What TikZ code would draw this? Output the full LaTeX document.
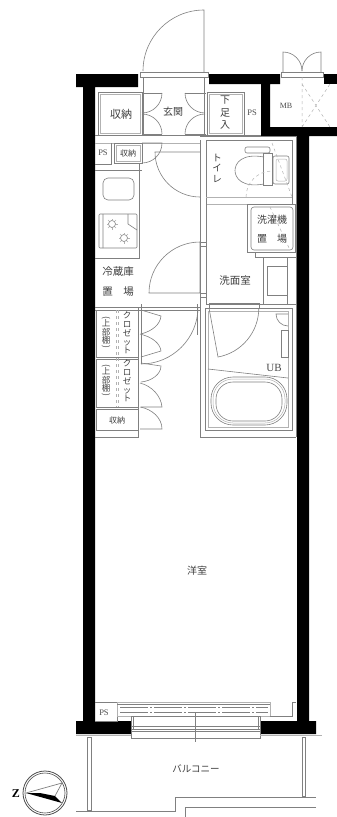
\documentclass[tikz,border=0pt]{standalone}
\usepackage{fontspec}
\setmainfont{Noto Sans CJK JP}
\newfontfamily\latinlabel{Liberation Serif}
\newcommand{\turnparen}[1]{\rotatebox[origin=c]{-90}{#1}}
\tikzset{
  wallfill/.style={fill=black,draw=none},
  thinline/.style={draw=black!50,line width=0.6pt},
  faintline/.style={draw=black!30,line width=0.5pt},
  roomlabel/.style={inner sep=0pt,font=\fontsize{10}{11}\selectfont,text=black!75},
  smalllabel/.style={inner sep=0pt,font=\fontsize{8}{9}\selectfont,text=black!75},
  latinmark/.style={inner sep=0pt,font=\fontsize{8.5}{9}\latinlabel\selectfont,text=black!70},
  stacklabel/.style={inner sep=0pt,align=center,font=\fontsize{8.5}{8.8}\selectfont,text=black!75}
}
\begin{document}
\begin{tikzpicture}[x=1pt,y=-1pt]
	\useasboundingbox (0,0) rectangle (337,817);
	\fill[white] (0,0) rectangle (337,817);

	% walls
	\fill[wallfill] (76,74) -- (138,74) -- (138,87) -- (95,87) -- (95,721) -- (131,721) -- (131,734) -- (76,734) -- (76,721) -- (83,721) -- (83,87) -- (76,87) -- cycle;
	\fill[wallfill] (209,74) -- (280,74) -- (280,84) -- (270,84) -- (270,127) -- (337,127) -- (337,136) -- (309,136) -- (309,721) -- (316,721) -- (316,734) -- (260,734) -- (260,721) -- (297,721) -- (297,136) -- (261,136) -- (261,84) -- (209,84) -- cycle;
	\fill[wallfill] (324,74) rectangle (337,84);

	% entrance door
	\draw[thinline] (204,72) -- (204,10) arc[start angle=-90,end angle=-180,radius=61];
	\draw[thinline] (140,72) rectangle (208,77);
	\draw[thinline] (143,77) -- (143,135) (204,77) -- (204,135);

	% MB
	\draw[thinline] (283,72) -- (283,52) arc[start angle=-90,end angle=0,radius=19];
	\draw[thinline] (321,72) -- (321,52) arc[start angle=-90,end angle=-180,radius=19];
	\draw[thinline] (281,72) rectangle (323,77);
	\draw[faintline,dashed] (302,77) -- (302,127) (302,127) -- (330,84) (302,84) -- (330,127);
	\node[latinmark,font=\fontsize{8}{9}\latinlabel\selectfont] (mbmark) at (286,106) {MB};

	% genkan storage
	\draw[thinline] (98,92) rectangle (142,135);
	\draw[faintline] (100,94) rectangle (140,133);
	\draw[thinline] (207,92) rectangle (244,135);
	\draw[faintline] (209,94) rectangle (242,133);
	\foreach \yedge in {93,134} {
		\draw[thinline] (143,\yedge) -- (162,\yedge);
		\draw[thinline] (206,\yedge) -- (185,\yedge);
	}
	\draw[thinline] (162,93) arc[start angle=0,end angle=90,radius=20];
	\draw[thinline] (162,134) arc[start angle=0,end angle=-90,radius=20];
	\draw[thinline] (185,93) arc[start angle=180,end angle=90,radius=20];
	\draw[thinline] (185,134) arc[start angle=180,end angle=270,radius=20];
	\node[roomlabel,font=\fontsize{11}{12}\selectfont] (shuno) at (121,114) {収納};
	\node[roomlabel] (genkan) at (173,112) {玄関};
	\node[stacklabel,font=\fontsize{10}{12.5}\selectfont] (getabako) at (225,113) {下\\足\\入};
	\node[latinmark] (psa) at (252,113) {PS};

	% corridor lines
	\draw[thinline] (95,135) -- (261,135);
	\draw[faintline] (95,143) -- (200,143);
	\draw[thinline] (200,140) -- (200,200) (206,140) -- (206,200);
	\draw[thinline] (206,140) -- (292,140) (200,136) -- (296,136);

	% small storage and PS
	\draw[thinline] (95,164) -- (111,164) -- (111,143);
	\draw[thinline] (114,143) rectangle (142,163);
	\draw[faintline] (116,145) rectangle (140,161);
	\draw[thinline] (142,143) -- (162,143) arc[start angle=0,end angle=90,radius=20];
	\node[latinmark] (psb) at (103,153) {PS};
	\node[smalllabel] (shunob) at (128,153) {収納};

	% toilet
	\draw[thinline] (200,152) -- (155,152) arc[start angle=180,end angle=90,radius=45];
	\draw[thinline] (292,140) -- (292,204);
	\draw[faintline] (206,197) -- (292,197) (206,204) -- (296,204);
	\draw[thinline] (296,136) -- (296,437);
	\draw[thinline] (264,157) .. controls (242,153) and (235,163) .. (235,170.5) .. controls (235,178) and (242,188) .. (264,184);
	\draw[thinline] (263,153) rectangle (272,185);
	\draw[thinline,rounded corners=2pt] (273,156) rectangle (289,184);
	\draw[faintline,rounded corners=2pt] (276,159) rectangle (287,181);
	\draw[thinline,rounded corners=2pt] (245,147) -- (270,147) -- (270,153) -- (245,153) -- cycle;
	\draw[faintline,dashed] (272,143) -- (292,197) (246,197) arc[start angle=180,end angle=270,radius=26];
	\node[stacklabel,font=\fontsize{9.5}{10.5}\selectfont] (toire) at (217,168) {ト\\イ\\レ};

	% kitchen
	\draw[thinline] (95,170) -- (142,170);
	\draw[thinline] (139,164) -- (139,258) -- (95,258);
	\draw[thinline,rounded corners=5pt] (103,178) rectangle (134,200);
	\draw[thinline,rounded corners=1pt] (99,214) rectangle (137,248);
	\draw[thinline] (103,214) -- (103,248) (128,214) -- (128,224) -- (137,230);
	\foreach \bx/\by in {112/224,124/238} {
		\draw[thinline] (\bx,\by) circle (3.5);
		\foreach \ang in {0,45,...,315}
			\draw[faintline] (\bx,\by) ++(\ang:3.5) -- ++(\ang:2);
	}
	\node[roomlabel,font=\fontsize{10.5}{11}\selectfont] (reizoko) at (118,272) {冷蔵庫};
	\node[roomlabel,font=\fontsize{10.5}{11}\selectfont] (okibaa) at (118,292) {置\hspace{1em}場};

	% washroom
	\draw[thinline] (200,200) -- (200,437) -- (296,437);
	\draw[thinline] (206,200) -- (206,304);
	\draw[thinline] (200,242) rectangle (206,246) (200,293) rectangle (206,297);
	\draw[thinline] (200,293) -- (200,242) arc[start angle=-90,end angle=-180,radius=51] -- cycle;
	\draw[thinline] (247,204) rectangle (295,252);
	\draw[thinline,rounded corners=3pt] (251,207) rectangle (293,250);
	\draw[faintline,dashed] (270,207) -- (290,250);
	\node[roomlabel] (sentakuki) at (272,220) {洗濯機};
	\node[roomlabel] (okibab) at (272,239) {置\hspace{1em}場};
	\draw[thinline] (255,252) -- (255,257) -- (296,257);
	\draw[thinline] (263,257) -- (263,304) (287,257) -- (287,304);
	\draw[thinline] (267,266) rectangle (287,295);
	\node[roomlabel,font=\fontsize{10.5}{11}\selectfont] (senmenjo) at (235,281) {洗面室};
	\draw[thinline] (206,304) -- (296,304);

	% bath
	\draw[thinline] (205,308) rectangle (292,430);
	\draw[faintline] (208,311) rectangle (288,427);
	\draw[thinline] (209,303) rectangle (259,308);
	\draw[thinline] (209,308) -- (218,357) arc[start angle=79.6,end angle=0,radius=49.8];
	\draw[thinline] (288,326) arc[start angle=90,end angle=180,radius=12] -- (288,314);
	\draw[thinline] (281,330) rectangle (288,357);
	\node[latinmark,font=\fontsize{11}{12}\latinlabel\selectfont] (ubmark) at (274,368) {UB};
	\draw[thinline] (208,369) -- (288,378);
	\draw[thinline,rounded corners=22pt] (211,377) rectangle (287,425);
	\draw[faintline,rounded corners=20pt] (213,379) rectangle (285,423);
	\draw[thinline,rounded corners=17pt] (216,382) rectangle (282,421);

	% closets
	\draw[thinline] (95,307) -- (200,307) (95,310) -- (200,310);
	\draw[thinline] (141,304) -- (141,364);
	\draw[thinline] (138,307) -- (138,437) -- (95,437);
	\foreach \ctop/\cbot in {310/357,359/407,409/430}
		\draw[thinline] (96,\ctop) rectangle (138,\cbot);
	\foreach \cx in {116,118}
		\draw[faintline,dashed] (\cx,310) -- (\cx,407);
	\draw[thinline] (141,310) -- (161,316) .. controls (160,325) and (152,331) .. (141,334);
	\draw[thinline] (141,357) -- (161,351) .. controls (160,343) and (152,337) .. (140,334);
	\draw[thinline] (141,363) -- (161,366) .. controls (161,374) and (152,381) .. (141,382);
	\draw[thinline] (141,407) -- (162,407) .. controls (161,396) and (152,386) .. (140,383);
	\draw[thinline] (140,407) .. controls (152,409) and (162,418) .. (162,429) -- (140,429);
	\draw[thinline] (198,307) arc[start angle=0,end angle=90,radius=57];
	\draw[thinline] (197,304) -- (197,335);
	\node[stacklabel] (jobua) at (106,333) {\turnparen{(}\\[-3pt]上\\部\\棚\\[-3pt]\turnparen{)}};
	\node[stacklabel] (jobub) at (106,381) {\turnparen{(}\\[-3pt]上\\部\\棚\\[-3pt]\turnparen{)}};
	\node[stacklabel] (closeta) at (127,333) {ク\\ロ\\ゼ\\ッ\\ト};
	\node[stacklabel] (closetb) at (127,381) {ク\\ロ\\ゼ\\ッ\\ト};
	\node[smalllabel] (shunoc) at (117,420) {収納};

	% main room
	\node[roomlabel] (yoshitsu) at (197,571) {洋室};

	% window side
	\draw[thinline] (95,702) -- (117,702) -- (117,721) -- (95,721);
	\node[latinmark] (psc) at (104,713) {PS};
	\draw[faintline] (117,702) rectangle (270,716);
	\draw[thinline] (117,704) -- (270,704);
	\draw[thinline,dash pattern=on 28pt off 2pt on 2pt off 2pt] (120,707) -- (268,707) (120,712) -- (268,712);
	\draw[thinline] (270,716) -- (292,716) -- (292,702) -- (296,702);
	\draw[thinline] (131,716) -- (131,738) -- (260,738) -- (260,716);
	\draw[thinline] (133,716) -- (133,730) (258,716) -- (258,730);
	\draw[thinline] (131,716) -- (260,716) (131,726) -- (260,726) (131,729) -- (260,729) (131,731) -- (260,731);
	\draw[thinline] (195,713) -- (195,742);

	% balcony
	\draw[thinline] (87,737) rectangle (91,810);
	\draw[thinline] (302,737) rectangle (305,796);
	\draw[thinline] (76,811) -- (175,811) -- (175,797) -- (316,797);
	\draw[thinline] (316,807) -- (185,807) -- (185,817);
	\draw[faintline] (76,735) -- (131,735) (260,735) -- (322,735);
	\node[smalllabel,font=\fontsize{9.5}{10}\selectfont] (balcony) at (196,769) {バルコニー};

	% compass
	\draw[thinline,draw=black!70,line width=0.8pt] (45,793) circle (22);
	\draw[thinline,draw=black!70] (45,793) circle (20);
	\draw[draw=black!50,line width=0.7pt] (26,793) -- (62,783) -- (55,796);
	\fill[black] (26,793) -- (62,803) -- (55,796) -- (40,793) -- cycle;
	\node[inner sep=0pt,font=\fontsize{12}{13}\latinlabel\bfseries\selectfont] (north) at (16,794) {Z};
\end{tikzpicture}
\end{document}
